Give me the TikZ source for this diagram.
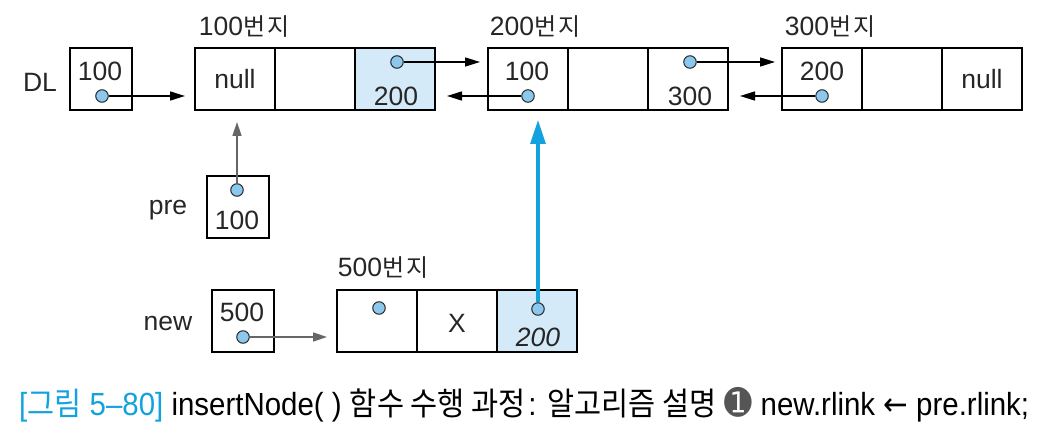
\documentclass[tikz,border=0pt]{standalone}
\usepackage{fontspec}
\setmainfont{Liberation Sans}
\newfontfamily\krfont{Noto Sans CJK KR}
\newfontfamily\symfont{DejaVu Sans}
\usetikzlibrary{arrows.meta}
\definecolor{txt}{HTML}{262626}
\definecolor{cellblue}{HTML}{D5EAF8}
\definecolor{dotblue}{HTML}{8CC8EE}
\definecolor{hiblue}{HTML}{14A2DF}
\definecolor{grayarrow}{HTML}{666666}
\definecolor{numgray}{HTML}{555555}
\newcommand{\lbl}[1]{\fontsize{26.5}{30}\selectfont #1}
\newcommand{\bunji}[1]{\fontsize{26.5}{30}\selectfont #1{\krfont\fontsize{24}{28}\selectfont 번\kern2pt 지}}
\begin{document}
\begin{tikzpicture}[x=1pt,y=-1pt,
  cellbox/.style={draw=black,line width=2.2pt,minimum width=80pt,minimum height=62pt,inner sep=0pt,outer sep=0pt},
  ptrbox/.style={draw=black,line width=2.2pt,minimum width=62pt,minimum height=62pt,inner sep=0pt,outer sep=0pt},
  hicell/.style={cellbox,fill=cellblue},
  dotn/.style={circle,draw=txt,fill=dotblue,line width=1pt,minimum size=12.5pt,inner sep=0pt},
  txtn/.style={text=txt,inner sep=0pt,font=\lbl{}},
  blk/.style={-{Triangle[length=15pt,width=9pt]},line width=1.5pt,black},
  gry/.style={-{Triangle[length=14pt,width=9pt]},line width=1.5pt,grayarrow},
  hil/.style={-{Triangle[length=24pt,width=15pt]},line width=3.2pt,hiblue}
]
\useasboundingbox (0,0) rectangle (1039,430);
% DL pointer
\node[txtn] (dl) at (40,82) {DL};
\node[ptrbox] (dlbox) at (101,79) {};
\node[txtn] (dlv) at (100,71) {100};
\node[dotn] (dldot) at (102,96) {};
% node 100
\node[txtn] (l100) at (244,27) {\bunji{100}};
\node[cellbox] (a1) at (235,79) {};
\node[cellbox] (a2) at (315,79) {};
\node[hicell] (a3) at (395,79) {};
\node[txtn] at (a1) {null};
\node[dotn] (a3dot) at (397,62) {};
\node[txtn] (a3v) at (396,96) {200};
% node 200
\node[txtn] (l200) at (535,27) {\bunji{200}};
\node[cellbox] (b1) at (528,79) {};
\node[cellbox] (b2) at (608,79) {};
\node[cellbox] (b3) at (688,79) {};
\node[txtn] (b1v) at (527,71) {100};
\node[dotn] (b1dot) at (528,96) {};
\node[dotn] (b3dot) at (690,62) {};
\node[txtn] (b3v) at (690,96) {300};
% node 300
\node[txtn] (l300) at (830,27) {\bunji{300}};
\node[cellbox] (c1) at (822,79) {};
\node[cellbox] (c2) at (902,79) {};
\node[cellbox] (c3) at (982,79) {};
\node[txtn] (c1v) at (822,71) {200};
\node[dotn] (c1dot) at (822,96) {};
\node[txtn] at (c3) {null};
% pre
\node[txtn] (pre) at (168,210) {pre};
\node[ptrbox] (prebox) at (238,207) {};
\node[dotn] (predot) at (237,190) {};
\node[txtn] (prev) at (237,220) {100};
% new
\node[txtn] (new) at (168,323) {new};
\node[ptrbox] (newbox) at (243,321) {};
\node[txtn] (newv) at (242,312) {500};
\node[dotn] (newdot) at (243,337) {};
% node 500
\node[txtn] (l500) at (383,268) {\bunji{500}};
\node[cellbox] (d1) at (377,321) {};
\node[cellbox] (d2) at (457,321) {};
\node[hicell] (d3) at (537,321) {};
\node[dotn] (d1dot) at (379,308) {};
\node[txtn] at (457,323) {X};
\node[dotn] (d3dot) at (538,309) {};
\node[txtn] (d3v) at (538,337) {\itshape 200};
% arrows
\draw[blk,shorten >=10pt] (dldot) -- (dldot -| a1.west);
\draw[blk,shorten >=8pt] (a3dot) -- (a3dot -| b1.west);
\draw[blk,shorten >=12pt] (b1dot) -- (b1dot -| a3.east);
\draw[blk,shorten >=7pt] (b3dot) -- (b3dot -| c1.west);
\draw[blk,shorten >=12pt] (c1dot) -- (c1dot -| b3.east);
\draw[gry,shorten >=12pt] (predot) -- (predot |- a1.south);
\draw[gry,shorten >=10pt] (newdot) -- (newdot -| d1.west);
\draw[hil,shorten >=10pt] (d3dot) -- (d3dot |- b1.south);
% caption
\node[anchor=west,inner sep=0pt] (cap) at (19,405) {\scalebox{0.92}[1]{\fontsize{32}{36}\selectfont
  \textcolor{hiblue}{[{\krfont 그림} 5–80]} \textcolor{black}{insertNode( ) {\krfont 함수 수행 과정}\kern3pt: {\krfont 알고리즘 설명} {\symfont\fontsize{36}{36}\selectfont\textcolor{numgray}{➊}} new.rlink {\symfont ←} pre.rlink;}}};
\end{tikzpicture}
\end{document}
